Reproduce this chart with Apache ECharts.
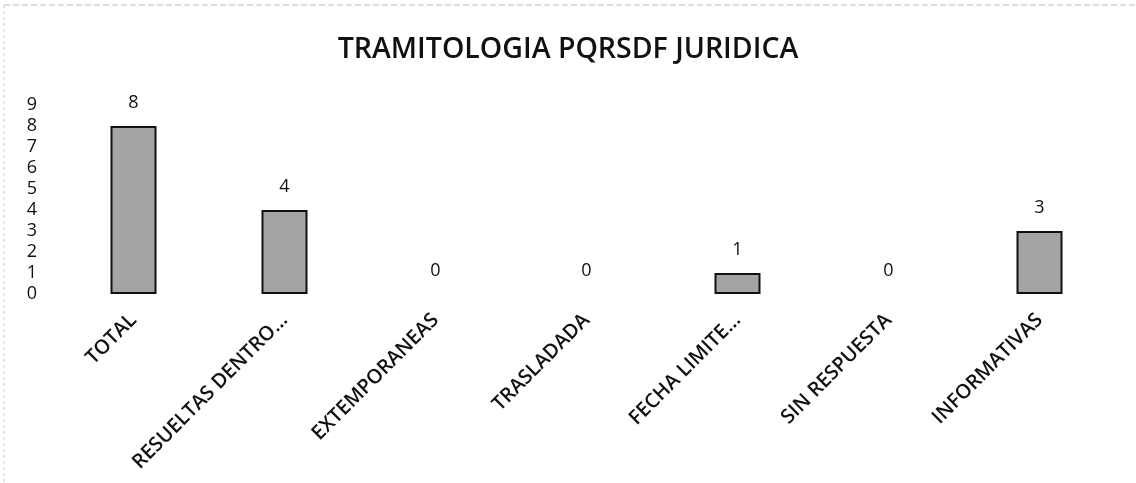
<!DOCTYPE html>
<html>
<head>
<meta charset="utf-8">
<script src="https://cdn.jsdelivr.net/npm/echarts@6/dist/echarts.min.js"></script>
<style>
  html, body { margin: 0; padding: 0; background: #fff; }
  #chart { width: 1136px; height: 483px; }
</style>
</head>
<body>
<div id="chart"></div>
<script>
var categories = ['TOTAL', 'RESUELTAS DENTRO…', 'EXTEMPORANEAS', 'TRASLADADA', 'FECHA LIMITE…', 'SIN RESPUESTA', 'INFORMATIVAS'];
var values = [8, 4, 0, 0, 1, 0, 3];
var yTicks = [0, 1, 2, 3, 4, 5, 6, 7, 8, 9];

var myChart = echarts.init(document.getElementById('chart'));
var font = '"Open Sans", "Liberation Sans", sans-serif';

// zero bars have no outline in the original
var barData = values.map(function (v) {
  return v === 0 ? { value: v, itemStyle: { borderWidth: 0 } } : v;
});

myChart.setOption({
  backgroundColor: '#fff',
  animation: false,
  title: {
    text: 'TRAMITOLOGIA PQRSDF JURIDICA',
    left: 'center',
    top: 30,
    textStyle: { fontFamily: font, fontSize: 28.5, fontWeight: 600, color: '#111' }
  },
  grid: { left: 58, right: 21, top: 105, bottom: 189, containLabel: false },
  xAxis: {
    type: 'category',
    data: categories,
    axisLine: { show: false },
    axisTick: { show: false },
    axisLabel: {
      rotate: 45,
      interval: 0,
      margin: 23,
      fontFamily: font,
      fontSize: 20,
      fontWeight: 600,
      color: '#111'
    }
  },
  yAxis: {
    type: 'value',
    min: yTicks[0],
    max: yTicks[yTicks.length - 1],
    interval: 1,
    splitLine: { show: false },
    axisLine: { show: false },
    axisTick: { show: false },
    axisLabel: {
      margin: 21,
      fontFamily: font,
      fontSize: 18,
      color: '#111',
      lineHeight: 18
    }
  },
  series: [{
    type: 'bar',
    data: barData,
    barWidth: 46,
    itemStyle: { color: '#a4a4a4', borderColor: '#111', borderWidth: 2 },
    label: {
      show: true,
      position: 'top',
      distance: 14,
      fontFamily: font,
      fontSize: 18,
      color: '#111'
    }
  }],
  graphic: [
    { type: 'line', shape: { x1: 4, y1: 5, x2: 1136, y2: 5 },
      style: { stroke: '#bbb', lineWidth: 1, lineDash: [6, 3] } },
    { type: 'line', shape: { x1: 4, y1: 5, x2: 4, y2: 483 },
      style: { stroke: '#ccc', lineWidth: 1, lineDash: [3, 3] } }
  ]
});
</script>
</body>
</html>
